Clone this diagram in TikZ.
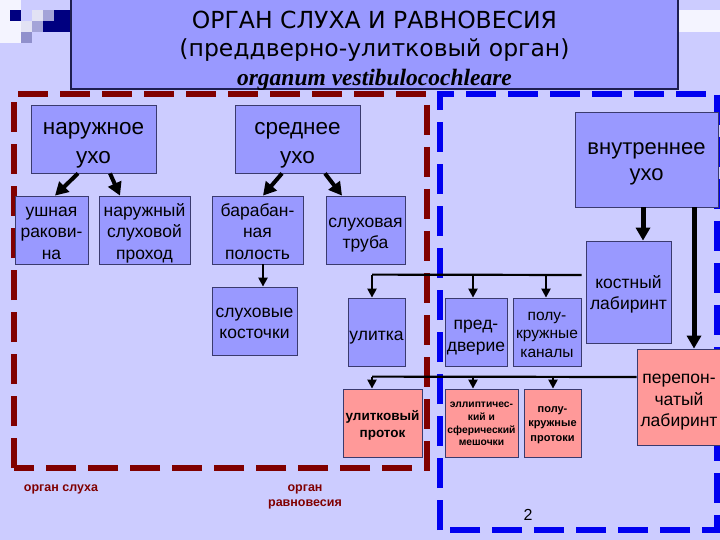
\documentclass[tikz,border=0pt]{standalone}
\usepackage{fontspec}
\setmainfont{Liberation Sans}
\newfontfamily\dejavu{DejaVu Sans}
\newfontfamily\serifbi{Liberation Serif}
\usetikzlibrary{arrows.meta,calc}
\definecolor{bg}{HTML}{CCCCFF}
\definecolor{boxblue}{HTML}{9999FF}
\definecolor{boxpink}{HTML}{FF9999}
\definecolor{edge}{HTML}{3A3A6E}
\definecolor{titleedge}{HTML}{1E1E50}
\definecolor{dred}{HTML}{800000}
\definecolor{dblue}{HTML}{0000F0}
\definecolor{navy}{HTML}{000080}
\definecolor{sqlight}{HTML}{E2E2F4}
\definecolor{sqmid}{HTML}{A4A4D8}
\definecolor{sqmidd}{HTML}{9090CC}
\definecolor{bandwhite}{HTML}{F4F4FF}
\newcommand{\boxtxt}[2]{\raisebox{#1}[\height][\depth]{\begin{tabular}{@{}c@{}}#2\end{tabular}}}
\begin{document}
\begin{tikzpicture}[x=1pt,y=-1pt,
  bbox/.style={draw=edge, line width=0.8pt, fill=boxblue, inner sep=0pt, text=black},
  pbox/.style={bbox, fill=boxpink},
  thickarr/.style={line width=4pt, -{Triangle[length=13pt,width=14pt]}},
  thinarr/.style={line width=2.2pt, -{Triangle[length=9pt,width=9pt]}},
  busline/.style={line width=2.2pt},
  redframe/.style={draw=dred, line width=6pt, dash pattern=on 30pt off 12pt},
  blueframe/.style={draw=dblue, line width=6pt, dash pattern=on 30pt off 12pt},
  bigtxt/.style={font=\fontsize{22.5}{29}\selectfont},
  midtxt/.style={font=\fontsize{17.5}{21.7}\selectfont},
  smalltxt/.style={font=\fontsize{15.5}{18.7}\selectfont},
  bolda/.style={font=\bfseries\fontsize{13.5}{17.5}\selectfont},
  boldb/.style={font=\bfseries\fontsize{10.3}{12.8}\selectfont},
  boldc/.style={font=\bfseries\fontsize{11}{14.5}\selectfont},
  legend/.style={text=dred, font=\bfseries\fontsize{12.5}{15}\selectfont, align=center, inner sep=0pt}
]
\useasboundingbox (0,0) rectangle (720,540);
% background
\fill[bg] (0,0) rectangle (720,540);
% decorations
\fill[bandwhite] (0,0) rectangle (21,43);
\fill[bandwhite] (678,10) rectangle (720,32);
\fill[navy] (10,10) rectangle (21,21);
\fill[sqlight] (32,10) rectangle (43,21);
\fill[sqmid] (43,10) rectangle (54,21);
\fill[navy] (54,10) rectangle (71,32);
\fill[navy] (43,21) rectangle (54,32);
\fill[sqmid] (32,21) rectangle (43,32);
\fill[sqlight] (21,21) rectangle (32,32);
\fill[sqmidd] (21,32) rectangle (32,43);
% frames
\draw[redframe] (14,468) -- (14,94) -- (427,94) -- (427,468) -- cycle;
\draw[blueframe] (440,530) -- (440,94) -- (717,94) -- (717,530) -- cycle;
% title
\node[draw=titleedge, line width=1.2pt, fill=boxblue, minimum width=607pt, minimum height=90pt, inner sep=0pt] (title) at (374.5,44) {};
\node[align=center, inner sep=0pt, font=\dejavu\fontsize{23.5}{28.5}\selectfont] (ttext) at (374.5,50.5)
  {ОРГАН СЛУХА И РАВНОВЕСИЯ\\(преддверно-улитковый орган)\\
   \serifbi\bfseries\itshape organum vestibulocochleare};
% boxes
\node[bbox, bigtxt, minimum width=125pt, minimum height=68pt] (nar) at (93.5,139) {\boxtxt{-4.5pt}{наружное\\ухо}};
\node[bbox, bigtxt, minimum width=125pt, minimum height=68pt] (sred) at (297.5,139) {\boxtxt{-4.5pt}{среднее\\ухо}};
\node[bbox, midtxt, minimum width=73pt, minimum height=68pt] (ush) at (51.5,230) {\boxtxt{-3.5pt}{ушная\\ракови-\\на}};
\node[bbox, midtxt, minimum width=91pt, minimum height=68pt] (prohod) at (144.5,230) {\boxtxt{-3.5pt}{наружный\\слуховой\\проход}};
\node[bbox, midtxt, minimum width=91pt, minimum height=68pt] (baraban) at (257.5,230) {\boxtxt{-3.5pt}{барабан-\\ная\\полость}};
\node[bbox, midtxt, minimum width=79pt, minimum height=68pt] (truba) at (365.5,230) {\boxtxt{-3.8pt}{слуховая\\труба}};
\node[bbox, midtxt, minimum width=85pt, minimum height=68pt] (kost) at (254.5,321) {\boxtxt{-2.8pt}{слуховые\\косточки}};
\node[bbox, midtxt, minimum width=57pt, minimum height=68pt] (ulitka) at (376.5,332) {\boxtxt{-3.7pt}{улитка}};
\node[bbox, midtxt, minimum width=62pt, minimum height=68pt] (pred) at (476,332) {\boxtxt{-4pt}{пред-\\дверие}};
\node[bbox, smalltxt, minimum width=68pt, minimum height=68pt] (polu) at (547,332) {\boxtxt{-3pt}{полу-\\кружные\\каналы}};
\node[bbox, midtxt, minimum width=85pt, minimum height=102pt] (kostlab) at (628.5,292) {\boxtxt{-2.8pt}{костный\\лабиринт}};
\node[bbox, font=\fontsize{22}{26}\selectfont, minimum width=143pt, minimum height=95pt] (vnutr) at (646.5,159.5) {\boxtxt{-3.3pt}{внутреннее\\ухо}};
\node[pbox, midtxt, minimum width=84pt, minimum height=96pt] (perep) at (679,397) {\boxtxt{-3.7pt}{перепон-\\чатый\\лабиринт}};
\node[pbox, bolda, minimum width=79pt, minimum height=68pt] (ulprot) at (382.5,423) {\boxtxt{-2.4pt}{улитковый\\проток}};
\node[pbox, boldb, minimum width=73pt, minimum height=68pt] (ellipt) at (481.5,423) {\boxtxt{-1.2pt}{эллиптичес-\\кий и\\сферический\\мешочки}};
\node[pbox, boldc, minimum width=57pt, minimum height=68pt] (poluprot) at (552.5,423) {\boxtxt{-1pt}{полу-\\кружные\\протоки}};
% thick arrows
\draw[thickarr] ([xshift=-15.5pt]nar.south) -- ([xshift=3.5pt]ush.north);
\draw[thickarr] ([xshift=16.5pt]nar.south) -- ([xshift=-24.5pt]prohod.north);
\draw[thickarr] ([xshift=-15.5pt]sred.south) -- ([xshift=5.5pt]baraban.north);
\draw[thickarr] ([xshift=27.5pt]sred.south) -- ([xshift=-23.5pt]truba.north);
\draw[thinarr, line width=2.8pt] ([xshift=5.5pt]baraban.south) -- ([xshift=8.5pt]kost.north);
\draw[thickarr, line width=5pt] ([xshift=-3.5pt]vnutr.south) -- ([xshift=14.5pt]kostlab.north);
\draw[thickarr, line width=5pt] ([xshift=47.5pt]vnutr.south) -- ([xshift=15pt]perep.north);
% bus from костный лабиринт
\coordinate (b1) at ($(ulitka.north)+(-4.5,-23)$);
\draw[busline] ([yshift=17pt,xshift=-4pt]kostlab.west) -- (b1);
\draw[thinarr] (b1) -- ([xshift=-4.5pt]ulitka.north);
\draw[thinarr] ($(pred.north)+(-3,-23)$) -- ([xshift=-3pt]pred.north);
\draw[thinarr] ($(polu.north)+(-1,-23)$) -- ([xshift=-1pt]polu.north);
% bus from перепончатый лабиринт
\coordinate (b2) at ($(ulprot.north)+(-10.5,-12)$);
\draw[busline] ([yshift=20pt]perep.west) -- (b2);
\draw[thinarr] (b2) -- ([xshift=-10.5pt]ulprot.north);
\draw[thinarr] ($(ellipt.north)+(-8.5,-12)$) -- ([xshift=-8.5pt]ellipt.north);
\draw[thinarr] ($(poluprot.north)+(0.5,-12)$) -- ([xshift=0.5pt]poluprot.north);
% legends
\node[legend] (lslux) at (61,489) {орган слуха};
\node[legend] (lravn) at (305,496.5) {орган\\равновесия};
\node[inner sep=0pt, font=\fontsize{16}{18}\selectfont] (pnum) at (528,515) {2};
\end{tikzpicture}
\end{document}
